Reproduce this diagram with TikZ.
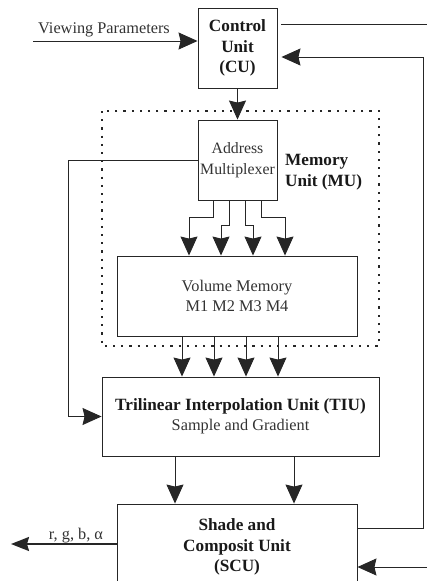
\documentclass[tikz,border=0pt]{standalone}
\usepackage{fontspec}
\setmainfont{Liberation Serif}
\usetikzlibrary{arrows.meta}
\begin{document}
\begin{tikzpicture}[x=1pt,y=-1pt,
  box/.style={draw=black!85, line width=0.9pt, rectangle, inner sep=0pt, align=center,
    text=black!80, font=\fontsize{16.3}{20.5}\selectfont},
  bx/.style={font=\fontsize{17.2}{20.5}\selectfont\bfseries, text=black!90},
  lbl/.style={inner sep=0pt, text=black!80, font=\fontsize{16.3}{20.5}\selectfont},
  arr/.style={-{Stealth[length=19pt,width=17pt,inset=2pt]}, line width=0.9pt, draw=black!85},
  ln/.style={line width=0.9pt, draw=black!85},
  thickarr/.style={-{Stealth[length=18pt,width=14pt,inset=2pt]}, line width=2pt, draw=black!85},
  dots/.style={line width=2.2pt, draw=black!85, dash pattern=on 2.2pt off 6pt}
]
\useasboundingbox (0,0) rectangle (427,581);
\clip (0,0) rectangle (427,581);

% memory unit dotted outline
\draw[dots] (102,111) rectangle (379,346);

% boxes
\node[box, bx, minimum width=79pt, minimum height=80pt] (cu) at (237.5,48) {Control\\Unit\\(CU)};
\node[box, minimum width=79pt, minimum height=80pt, font=\fontsize{15.8}{20.5}\selectfont] (am) at (237.5,160) {Address\\Multiplexer};
\node[lbl, bx, anchor=west, align=left] (mu) at (285,172) {Memory\\Unit (MU)};
\node[box, minimum width=240pt, minimum height=80pt] (vm) at (237,296) {Volume Memory\\M1 M2 M3 M4};
\node[box, minimum width=277pt, minimum height=79pt] (tiu) at (240.5,416.5) {{\bfseries\fontsize{17.2}{20.5}\selectfont\color{black!90}Trilinear Interpolation Unit (TIU)}\\Sample and Gradient};
\node[box, bx, minimum width=240pt, minimum height=86pt] (scu) at (237,547) {Shade and\\Composit Unit\\(SCU)};

% labels
\node[lbl] (vp) at (104,30) {Viewing Parameters};
\node[lbl] (rgba) at (76,536) {r, g, b, α};

% coordinates
\coordinate (vpin) at (33,41);
\coordinate (topR) at (427,24);
\coordinate (fbR) at (423,528);
\coordinate (fbT) at (423,57);
\coordinate (tl) at (68,160);
\coordinate (outL) at (11,544);
\coordinate (inR) at (427,567);

% viewing parameters
\draw[arr] (vpin) -- (vpin -| cu.west);
% top line to the right
\draw[ln] ([xshift=4pt]cu.east |- topR) -- (topR);
% feedback from SCU to CU
\draw[arr, shorten >=4pt] (scu.east |- fbR) -- (fbR) -- (fbT) -- (cu.east |- fbT);
% CU to address multiplexer
\draw[arr] (cu) -- (am);
% address multiplexer to TIU
\draw[arr] (am.west) -- (tl) |- (tiu.west);
% address multiplexer to volume memory
\draw[arr] ([xshift=-24.5pt]am.south) |- (189,217) -- ([xshift=-48pt]vm.north);
\draw[arr] ([xshift=-8.5pt]am.south) |- (221,225) -- ([xshift=-16pt]vm.north);
\draw[arr] ([xshift=7.5pt]am.south) |- (253,225) -- ([xshift=16pt]vm.north);
\draw[arr] ([xshift=23.5pt]am.south) |- (285,217) -- ([xshift=48pt]vm.north);
% volume memory to TIU
\foreach \dx in {182,214,246,278}{
  \draw[arr] (\dx,0 |- vm.south) -- (\dx,0 |- tiu.north);
}
% TIU to SCU
\draw[arr] (175,0 |- tiu.south) -- (175,0 |- scu.north);
\draw[arr] (294,0 |- tiu.south) -- (294,0 |- scu.north);
% output
\draw[thickarr] (scu.west |- outL) -- (outL);
% input at bottom right
\draw[arr] (inR) -- (inR -| scu.east);
\end{tikzpicture}
\end{document}
